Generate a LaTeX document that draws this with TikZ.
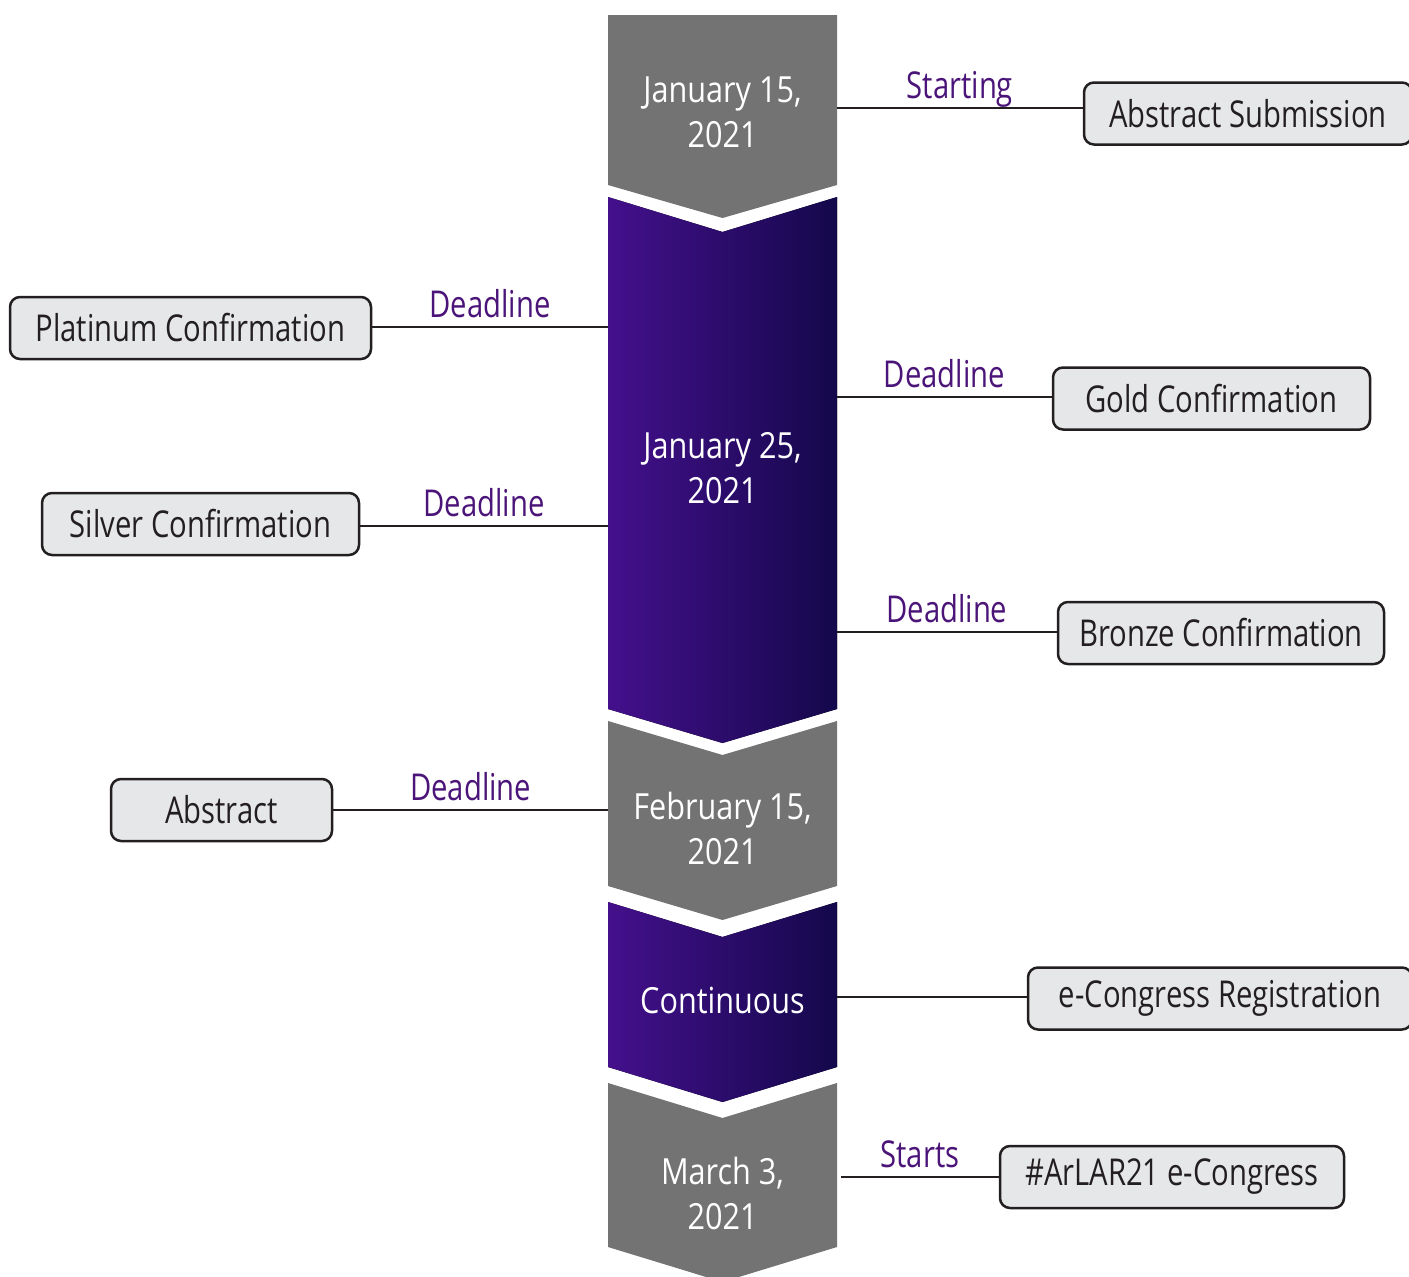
\documentclass[tikz,border=0pt]{standalone}
\usepackage{fontspec}
\setmainfont{Open Sans}[FakeStretch=0.79]
\newfontfamily\datefont{Open Sans}[FakeStretch=0.85]
\definecolor{chevgray}{RGB}{115,115,115}
\definecolor{pleft}{RGB}{68,16,140}
\definecolor{pmid}{RGB}{64,10,88}
\definecolor{pright}{RGB}{20,8,75}
\definecolor{lblpurple}{RGB}{75,20,120}
\definecolor{boxfill}{RGB}{230,231,233}
\definecolor{edge}{RGB}{35,31,32}
\tikzset{
  evbox/.style={draw=edge, line width=2.5pt, fill=boxfill, rounded corners=10pt,
    minimum height=62pt, inner sep=0pt, text=edge, font=\fontsize{37}{40}\selectfont},
  conn/.style={draw=edge, line width=2.5pt},
  lbl/.style={text=lblpurple, font=\fontsize{37}{40}\selectfont, inner sep=0pt, anchor=base, yshift=10pt},
  datetxt/.style={text=white, align=center, font=\datefont\fontsize{36}{45}\selectfont, inner sep=0pt},
  graychev/.style={fill=chevgray},
  purpchev/.style={left color=pleft, middle color=pmid, right color=pright}
}
\begin{document}
\begin{tikzpicture}[x=1pt,y=-1pt]
\useasboundingbox (0,0) rectangle (1409,1277);
% chevrons
\fill[graychev] (608,15) -- (837,15) -- (837,185) -- (722.5,218) -- (608,185) -- cycle;
\fill[purpchev] (608,197) -- (722.5,232) -- (837,197) -- (837,709) -- (722.5,743) -- (608,709) -- cycle;
\fill[graychev] (608,721) -- (722.5,755) -- (837,721) -- (837,886) -- (722.5,920) -- (608,886) -- cycle;
\fill[purpchev] (608,902) -- (722.5,937) -- (837,902) -- (837,1067) -- (722.5,1102) -- (608,1067) -- cycle;
\fill[graychev] (608,1083) -- (722.5,1118) -- (837,1083) -- (837,1247) -- (722.5,1282) -- (608,1247) -- cycle;
% date texts
\node[datetxt] (d1) at (722.5,112) {January 15,\\2021};
\node[datetxt] (d2) at (722.5,468) {January 25,\\2021};
\node[datetxt] (d3) at (722.5,828) {February 15,\\2021};
\node[datetxt] (d4) at (722.5,1000) {Continuous};
\node[datetxt] (d5) at (722.5,1193) {March 3,\\2021};
% connector anchors on chevron edges
\coordinate (c1) at (837,108);
\coordinate (c2) at (608,327);
\coordinate (c3) at (837,397);
\coordinate (c4) at (608,526);
\coordinate (c5) at (837,632);
\coordinate (c6) at (608,810);
\coordinate (c7) at (837,997);
\coordinate (c8) at (841,1177);
% boxes
\node[evbox, minimum width=328pt] (b1) at (1248,113.5) {Abstract Submission};
\node[evbox, minimum width=361pt] (b2) at (190.5,328) {Platinum Confirmation};
\node[evbox, minimum width=317pt] (b3) at (1211.5,398.5) {Gold Confirmation};
\node[evbox, minimum width=317pt] (b4) at (200.5,524) {Silver Confirmation};
\node[evbox, minimum width=326pt] (b5) at (1221,633) {Bronze Confirmation};
\node[evbox, minimum width=221pt] (b6) at (221.5,810) {Abstract};
\node[evbox, minimum width=384pt] (b7) at (1220,998.5) {e-Congress Registration};
\node[evbox, minimum width=344pt] (b8) at (1172,1177) {\#ArLAR21 e-Congress};
% connectors
\draw[conn] (c1) -- node[lbl] {Starting} (c1 -| b1.west);
\draw[conn] (c2) -- node[lbl] {Deadline} (c2 -| b2.east);
\draw[conn] (c3) -- node[lbl] {Deadline} (c3 -| b3.west);
\draw[conn] (c4) -- node[lbl] {Deadline} (c4 -| b4.east);
\draw[conn] (c5) -- node[lbl] {Deadline} (c5 -| b5.west);
\draw[conn] (c6) -- node[lbl] {Deadline} (b6.east);
\draw[conn] (c7) -- (c7 -| b7.west);
\draw[conn] (c8) -- node[lbl] {Starts} (b8.west);
\end{tikzpicture}
\end{document}
